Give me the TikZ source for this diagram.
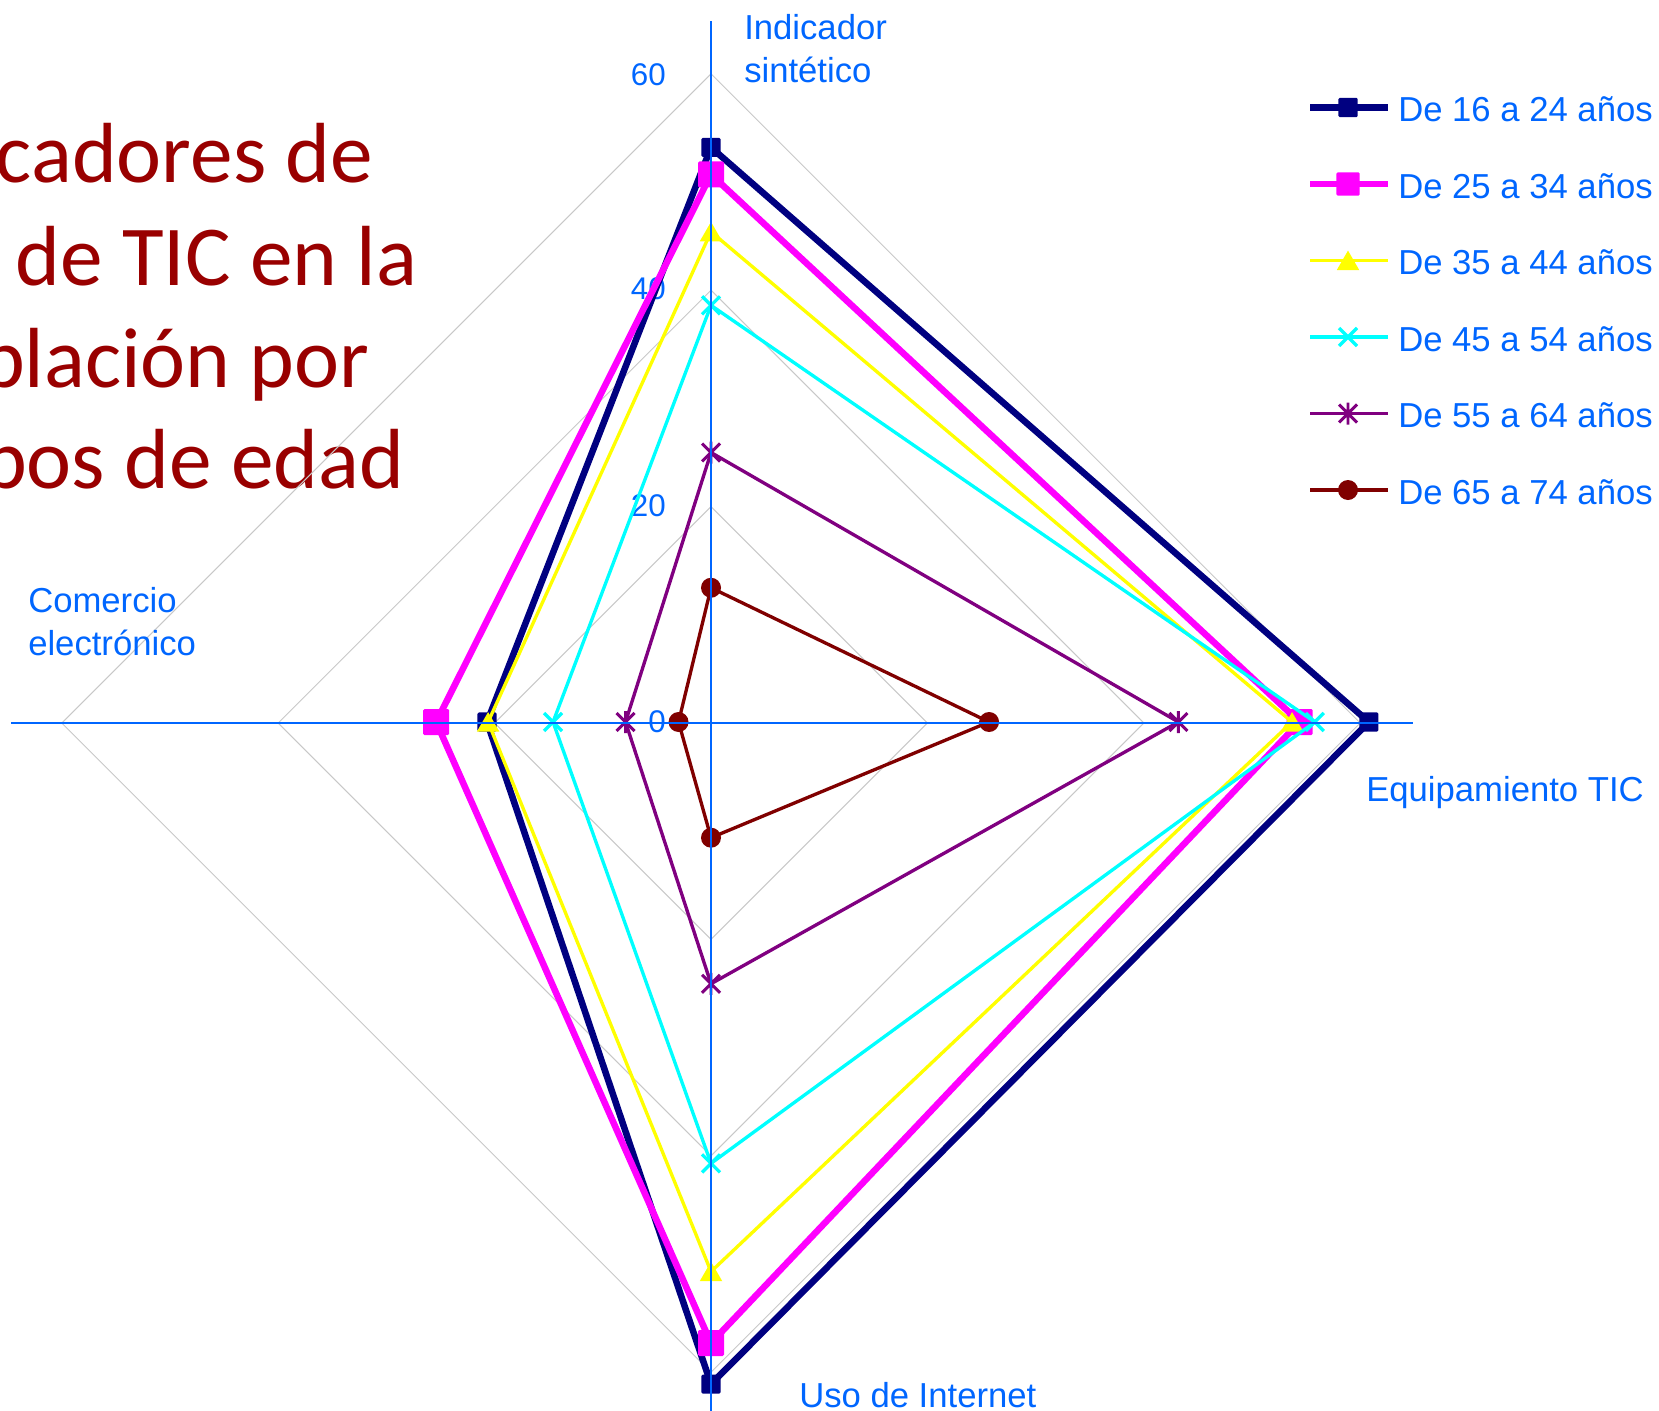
\documentclass[tikz,border=0pt]{standalone}
\usepackage{fontspec}
\setmainfont{Liberation Sans}
\newfontfamily\titlefont{Carlito}
\usetikzlibrary{shapes.geometric}
\definecolor{lblue}{RGB}{0,102,255}
\definecolor{gridgray}{RGB}{200,200,200}
\definecolor{tred}{RGB}{153,0,0}
\definecolor{snavy}{RGB}{0,0,128}
\definecolor{spink}{RGB}{255,0,255}
\definecolor{syellow}{RGB}{255,255,0}
\definecolor{scyan}{RGB}{0,255,255}
\definecolor{spurple}{RGB}{128,0,128}
\definecolor{smaroon}{RGB}{128,0,0}
\newcommand\radarpts[5]{%
  \coordinate (#1u) at (711,{723-#2*10.82});
  \coordinate (#1r) at ({711+#3*10.82},722);
  \coordinate (#1d) at (711,{723+#4*10.82});
  \coordinate (#1l) at ({711-#5*10.82},722);}
\begin{document}
\begin{tikzpicture}[x=0.75pt,y=-0.75pt,
  gridl/.style={draw=gridgray,line width=0.75pt},
  axisl/.style={draw=lblue,line width=0.8pt},
  titlet/.style={font=\titlefont\fontsize{64}{77}\selectfont,text=tred,inner sep=0pt,anchor=base west},
  lbl/.style={font=\fontsize{26}{31}\selectfont,text=lblue,inner sep=0pt,anchor=base west},
  tick/.style={font=\fontsize{23.5}{28}\selectfont,text=lblue,inner sep=0pt,anchor=base east},
  thick1/.style={line width=4.9pt,line join=round},
  thin1/.style={line width=2.5pt,line join=round},
  sqm/.style={rectangle,fill=#1,inner sep=0pt,rounded corners=1pt},
  trim/.style={regular polygon,regular polygon sides=3,fill=#1,inner sep=0pt,minimum size=19.5pt,yshift=-2.3pt},
  dotm/.style={circle,fill=#1,inner sep=0pt,minimum size=15pt},
  pics/xm/.style={code={\draw[scyan,line width=2.5pt] (-9,-9)--(9,9) (-9,9)--(9,-9);}},
  pics/astm/.style={code={\draw[spurple,line width=2.2pt] (-9,-9)--(9,9) (-9,9)--(9,-9) (0,-11)--(0,11);}}
]
\useasboundingbox (0,0) rectangle (1659,1410);
\clip (0,0) rectangle (1659,1410);

% title (cut at the left edge)
\node[titlet] (t1) at (-135,182) {Indicadores de};
\node[titlet] (t2) at (-127,285) {uso de TIC en la};
\node[titlet] (t3) at (-110,387) {población por};
\node[titlet] (t4) at (-133,488) {grupos de edad};

% grid
\foreach \r in {216.4,432.8,649.2}
  \draw[gridl] (711,{723-\r}) -- ({711+\r},723) -- (711,{723+\r}) -- ({711-\r},723) -- cycle;

% tick labels
\node[tick] (k0) at (666,732) {0};
\node[tick] (k20) at (666,516) {20};
\node[tick] (k40) at (666,299) {40};
\node[tick] (k60) at (666,85) {60};

% axis labels
\node[lbl] (a1) at (744,39) {Indicador};
\node[lbl] (a2) at (744,82) {sintético};
\node[lbl] (a3) at (1366,801) {Equipamiento TIC};
\node[lbl] (a4) at (799,1407) {Uso de Internet};
\node[lbl] (a5) at (28,612) {Comercio};
\node[lbl] (a6) at (28,655) {electrónico};

% data points
\radarpts{n}{53.2}{60.8}{61.1}{20.7}
\radarpts{p}{50.7}{54.4}{57.3}{25.4}
\radarpts{y}{45.4}{53.7}{50.7}{20.6}
\radarpts{c}{38.6}{55.8}{40.7}{14.6}
\radarpts{v}{25.0}{43.2}{24.1}{7.9}
\radarpts{m}{12.5}{25.7}{10.6}{3.0}

% series 1: navy
\draw[snavy,thick1] (nu) -- (nr) -- (nd) -- (nl) -- cycle;
\foreach \q in {u,r,d,l} \node[sqm=snavy,minimum size=14.3pt] (nm\q) at (n\q) {};
% series 2: pink
\draw[spink,thick1] (pu) -- (pr) -- (pd) -- (pl) -- cycle;
\foreach \q in {u,r,d,l} \node[sqm=spink,minimum size=19.5pt] (pm\q) at (p\q) {};
% series 3: yellow
\draw[syellow,thin1] (yu) -- (yr) -- (yd) -- (yl) -- cycle;
\foreach \q in {u,r,d,l} \node[trim=syellow] (ym\q) at (y\q) {};
% series 4: cyan
\draw[scyan,thin1] (cu) -- (cr) -- (cd) -- (cl) -- cycle;
\foreach \q in {u,r,d,l} \pic at (c\q) {xm};
% series 5: purple
\draw[spurple,thin1] (vu) -- (vr) -- (vd) -- (vl) -- cycle;
\foreach \q in {u,r,d,l} \pic at (v\q) {astm};
% series 6: maroon
\draw[smaroon,thin1] (mu) -- (mr) -- (md) -- (ml) -- cycle;
\foreach \q in {u,r,d,l} \node[dotm=smaroon] (mm\q) at (m\q) {};

% axes on top
\coordinate (axL) at (11,723);
\coordinate (axR) at (1413,723);
\coordinate (axT) at (711,21);
\coordinate (axB) at (711,1425);
\draw[axisl] (axL) -- (axR);
\draw[axisl] (axT) -- (axB);

% legend
\foreach \i/\yy in {1/107.5,2/184,3/260.5,4/337,5/413.5,6/490}{
  \coordinate (la\i) at (1310,\yy);
  \coordinate (lb\i) at (1388,\yy);
  \coordinate (lm\i) at (1348,\yy);
}
\draw[snavy,line width=5.2pt] (la1) -- (lb1);
\node[sqm=snavy,minimum size=14.5pt] (lmk1) at (lm1) {};
\draw[spink,line width=5.2pt] (la2) -- (lb2);
\node[sqm=spink,minimum size=17.5pt] (lmk2) at (lm2) {};
\draw[syellow,line width=2.7pt] (la3) -- (lb3);
\node[trim=syellow] (lmk3) at (lm3) {};
\draw[scyan,line width=2.7pt] (la4) -- (lb4);
\pic at (lm4) {xm};
\draw[spurple,line width=2.7pt] (la5) -- (lb5);
\pic at (lm5) {astm};
\draw[smaroon,line width=2.7pt] (la6) -- (lb6);
\node[dotm=smaroon] (lmk6) at (lm6) {};

\node[lbl] (l1) at (1398,121.5) {De 16 a 24 años};
\node[lbl] (l2) at (1398,198) {De 25 a 34 años};
\node[lbl] (l3) at (1398,274.5) {De 35 a 44 años};
\node[lbl] (l4) at (1398,351) {De 45 a 54 años};
\node[lbl] (l5) at (1398,427.5) {De 55 a 64 años};
\node[lbl] (l6) at (1398,504) {De 65 a 74 años};
\end{tikzpicture}
\end{document}
